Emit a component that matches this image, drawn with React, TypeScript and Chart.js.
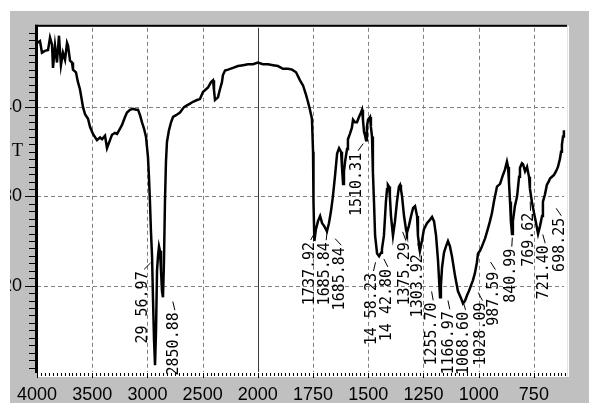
import React, { useEffect, useRef } from 'react';
import { Chart, LinearScale, registerables } from 'chart.js';

// ---- data ----
const wavenumbers = [
  4000, 3973, 3955, 3928, 3900, 3882, 3864, 3855, 3837, 3819, 3801, 3783, 3765, 3746, 3728, 3719, 3701, 3683, 3674, 3647,
  3629, 3611, 3583, 3565, 3538, 3520, 3493, 3457, 3429, 3411, 3384, 3366, 3339, 3321, 3294, 3275, 3248, 3230, 3203, 3185,
  3158, 3131, 3103, 3085, 3067, 3049, 3031, 3013, 2995, 2986, 2977, 2968, 2958, 2949, 2940, 2931, 2922, 2913, 2904, 2895,
  2886, 2877, 2868, 2859, 2850, 2841, 2832, 2823, 2805, 2786, 2768, 2741, 2705, 2669, 2642, 2614, 2587, 2551, 2524, 2497,
  2469, 2451, 2424, 2406, 2397, 2388, 2379, 2361, 2343, 2325, 2316, 2297, 2270, 2225, 2180, 2134, 2089, 2044, 2000,
  1977, 1954, 1931, 1909, 1886, 1863, 1845, 1827, 1809, 1795, 1782, 1773, 1764, 1755, 1750, 1748, 1744, 1737, 1728, 1718,
  1709, 1700, 1687, 1678, 1669, 1660, 1650, 1641, 1632, 1623, 1619, 1614, 1610, 1605, 1596, 1592, 1583, 1574, 1569, 1560,
  1551, 1542, 1533, 1528, 1524, 1519, 1515, 1510, 1506, 1501, 1492, 1488, 1483, 1479, 1474, 1469, 1460, 1451, 1442, 1438,
  1429, 1420, 1415, 1411, 1406, 1402, 1397, 1388, 1379, 1370, 1361, 1356, 1352, 1347, 1338, 1329, 1325, 1316, 1306, 1297,
  1288, 1279, 1275, 1266, 1257, 1248, 1234, 1220, 1211, 1202, 1193, 1184, 1175, 1171, 1166, 1157, 1148, 1139, 1130, 1121,
  1107, 1094, 1080, 1071, 1062, 1053, 1044, 1035, 1026, 1017, 1008, 1003, 994, 985, 971, 958, 949, 940, 931, 917,
  903, 890, 881, 872, 867, 863, 858, 854, 849, 845, 836, 826, 817, 813, 804, 799, 790, 781, 772, 768,
  759, 749, 740, 731, 722, 713, 709, 700, 691, 682, 677, 668, 659, 650, 641, 632, 627, 623, 618, 614,
];

const transmittance = [
  47.2, 47.4, 46.1, 46.3, 46.4, 47.8, 47.0, 44.4, 46.9, 45.0, 48.0, 44.7, 46.1, 45.3, 47.2, 46.9, 45.2, 45.0, 44.2, 43.9,
  42.8, 42.0, 40.0, 39.2, 38.7, 37.8, 37.0, 36.3, 36.6, 36.4, 36.8, 35.4, 36.3, 36.9, 37.1, 37.0, 37.6, 38.0, 38.9, 39.4,
  39.7, 39.8, 39.7, 39.7, 39.1, 38.3, 37.6, 36.7, 34.4, 32.2, 29.4, 26.1, 23.3, 18.3, 13.9, 11.1, 15.0, 21.7, 23.3, 24.4,
  23.9, 21.7, 19.4, 18.7, 22.8, 29.4, 33.9, 36.1, 37.4, 38.3, 38.9, 39.1, 39.4, 40.0, 40.2, 40.4, 40.6, 40.8, 40.9, 41.7,
  42.0, 42.2, 42.8, 43.0, 41.9, 40.8, 40.9, 41.1, 42.0, 42.8, 43.6, 44.1, 44.2, 44.4, 44.6, 44.7, 44.8, 44.8, 45.0,
  44.8, 44.8, 44.7, 44.6, 44.3, 44.3, 44.2, 43.9, 43.0, 42.4, 41.4, 40.6, 39.7, 38.7, 35.0, 29.4, 25.0, 26.3, 27.2, 27.8,
  27.0, 26.7, 26.1, 27.0, 28.3, 30.0, 32.4, 34.8, 35.4, 35.0, 33.3, 31.4, 32.8, 33.9, 35.3, 36.4, 37.0, 37.7, 38.6, 38.3,
  38.3, 38.9, 39.4, 39.7, 38.6, 37.2, 36.9, 36.3, 37.8, 38.6, 38.9, 37.8, 36.7, 32.8, 29.4, 25.6, 23.6, 23.3, 23.7, 24.1,
  25.6, 29.4, 30.8, 31.3, 31.1, 30.0, 27.8, 25.6, 27.2, 29.4, 31.1, 31.3, 30.8, 30.0, 27.8, 26.3, 25.9, 26.7, 27.8, 28.7,
  28.9, 27.8, 25.6, 23.9, 25.0, 26.3, 27.0, 27.4, 27.7, 27.2, 25.6, 22.8, 18.7, 20.0, 22.0, 23.7, 24.4, 25.0, 24.4, 23.3,
  21.1, 19.4, 18.6, 18.0, 18.3, 18.9, 19.4, 20.0, 20.6, 21.4, 22.6, 23.6, 23.9, 24.4, 25.3, 26.4, 27.2, 28.1, 29.4, 31.1,
  31.4, 32.4, 33.0, 33.9, 33.3, 31.7, 29.4, 27.2, 25.8, 27.2, 28.9, 30.0, 32.2, 33.2, 33.7, 33.6, 32.8, 33.3, 32.2, 30.9,
  29.4, 28.1, 27.0, 25.8, 26.7, 27.8, 29.4, 30.2, 31.3, 31.7, 32.0, 32.2, 32.4, 32.8, 33.3, 34.2, 35.0, 35.8, 36.7, 37.4,
];

const xTicks = [4000, 3500, 3000, 2500, 2000, 1750, 1500, 1250, 1000, 750];
const yTicks = [40, 30, 20];
const yTickLabels = ['40', '30', '20'];

const peakLabels = [
  '29 56.97', '2850.88', '1737.92', '1685.84', '1685.84', '1510.31', '14 58.23', '14 42.80', '1375.29', '1303.92',
  '1255.70', '1166.97', '1068.60', '1028.09', '987.59', '840.99', '769.62', '721.40', '698.25',
];
const peakWavenumbers = [
  2956.97, 2850.88, 1737.92, 1685.84, 1685.84, 1510.31, 1458.23, 1442.8, 1375.29, 1303.92,
  1255.7, 1166.97, 1068.6, 1028.09, 987.59, 840.99, 769.62, 721.4, 698.25,
];

// ---- layout (pixels, not data) ----
const X_MIN = 600;
const X_MAX = 4000;
const Y_MIN = 10.33;
const Y_MAX = 49.11;
const BREAK_AT = 2000;
const STRETCH = 2;
// label placement relative to the peak point on the curve: [dx, dy]
const labelOffsets = [
  [-9, 9], [10, 47], [-6, 10], [-2, 11], [13, 16], [-9, 12], [-5, 18], [6, 15], [9, 28], [7, 39],
  [10, 62], [7, 39], [1, 8], [9, 20], [13, 23], [-3, 33], [0, 28], [4, 19], [15, 24],
];

class BrokenWavenumberScale extends LinearScale {
  static id = 'brokenWavenumber';
  static defaults = {};
  _u(v: number) {
    const max = this.max as number;
    return v >= BREAK_AT ? max - v : max - BREAK_AT + STRETCH * (BREAK_AT - v);
  }
  _total() {
    const max = this.max as number;
    const min = this.min as number;
    return max - BREAK_AT + STRETCH * (BREAK_AT - min);
  }
  getPixelForValue(value: number) {
    if (value === null || value === undefined || isNaN(value)) return NaN;
    return this.left + (this._u(value) / this._total()) * this.width;
  }
  getValueForPixel(pixel: number) {
    const u = ((pixel - this.left) / this.width) * this._total();
    const max = this.max as number;
    const first = max - BREAK_AT;
    return u <= first ? max - u : BREAK_AT - (u - first) / STRETCH;
  }
}

Chart.register(...registerables, BrokenWavenumberScale as any);

function curveValueAt(w: number) {
  for (let i = 0; i < wavenumbers.length - 1; i++) {
    const a = wavenumbers[i];
    const b = wavenumbers[i + 1];
    if (w <= a && w >= b) {
      const t = a === b ? 0 : (a - w) / (a - b);
      return transmittance[i] + t * (transmittance[i + 1] - transmittance[i]);
    }
  }
  return transmittance[transmittance.length - 1];
}

const framePlugin = {
  id: 'irFrame',
  beforeDraw(chart: any) {
    const { ctx, chartArea: a, width, height } = chart;
    const xs = chart.scales.x;
    const ys = chart.scales.y;
    ctx.save();
    ctx.fillStyle = '#ffffff';
    ctx.fillRect(0, 0, width, height);
    ctx.fillStyle = '#c0c0c0';
    ctx.fillRect(10, 11, width - 10, height - 11);
    ctx.fillStyle = '#ffffff';
    ctx.fillRect(a.left, a.top, a.right - a.left + 2, a.bottom - a.top + 5);
    ctx.fillStyle = '#e4e4e4';
    ctx.fillRect(a.right, a.top, 1, a.bottom - a.top + 5);

    ctx.lineWidth = 1;
    for (const v of xTicks) {
      if (v === X_MAX) continue;
      const px = Math.round(xs.getPixelForValue(v)) + 0.5;
      ctx.beginPath();
      if (v === BREAK_AT) {
        ctx.setLineDash([]);
        ctx.strokeStyle = '#3a3a3a';
      } else {
        ctx.setLineDash([4, 3]);
        ctx.strokeStyle = '#808080';
      }
      ctx.moveTo(px, a.top + 2);
      ctx.lineTo(px, a.bottom);
      ctx.stroke();
    }
    ctx.setLineDash([4, 3]);
    ctx.strokeStyle = '#808080';
    for (const v of yTicks) {
      const py = Math.round(ys.getPixelForValue(v)) + 0.5;
      ctx.beginPath();
      ctx.moveTo(a.left, py);
      ctx.lineTo(a.right - 3, py);
      ctx.stroke();
    }
    ctx.restore();
  },
  afterDatasetsDraw(chart: any) {
    const { ctx } = chart;
    const xs = chart.scales.x;
    const ys = chart.scales.y;
    ctx.save();
    ctx.fillStyle = '#000';
    ctx.strokeStyle = '#000';
    ctx.lineWidth = 1;
    ctx.font = '15px "DejaVu Sans Mono"';
    peakLabels.forEach((label, i) => {
      const w = peakWavenumbers[i];
      const ax = xs.getPixelForValue(w);
      const ay = ys.getPixelForValue(curveValueAt(w));
      const lx = ax + labelOffsets[i][0];
      const ly = ay + labelOffsets[i][1];
      // leader
      const sx = lx + 1;
      const sy = ly - 1;
      const dx = ax - sx;
      const dy = ay - sy;
      const d = Math.hypot(dx, dy);
      const len = Math.min(d - 1, 9);
      if (len > 1) {
        ctx.beginPath();
        ctx.moveTo(sx, sy);
        ctx.lineTo(sx + (dx / d) * len, sy + (dy / d) * len);
        ctx.stroke();
      }
      ctx.save();
      ctx.translate(lx, ly + 1);
      ctx.rotate(-Math.PI / 2);
      ctx.textAlign = 'right';
      ctx.textBaseline = 'middle';
      ctx.fillText(label, 0, 0);
      ctx.restore();
    });
    ctx.restore();
  },
  afterDraw(chart: any) {
    const { ctx, chartArea: a, width, height } = chart;
    const xs = chart.scales.x;
    const ys = chart.scales.y;
    ctx.save();
    ctx.fillStyle = '#000';
    // frame lines
    ctx.fillRect(a.left - 2, a.top - 1, 3, a.bottom - a.top + 2);
    ctx.fillRect(a.left - 2, a.top - 1, a.right - a.left + 2, 2);

    // x-axis tick row
    const segs = [
      [X_MAX, BREAK_AT, 500 / 14],
      [BREAK_AT, X_MIN, 250 / 14],
    ];
    for (const [from, to, step] of segs) {
      for (let v = from; v >= to - 0.01; v -= step) {
        const px = Math.round(xs.getPixelForValue(v));
        ctx.fillRect(px, a.bottom + 1, 1, 3);
      }
    }
    for (const v of xTicks) {
      const px = Math.round(xs.getPixelForValue(v));
      ctx.fillRect(px, a.bottom + 1, 1, 5);
    }

    // y-axis ticks
    const ystep = 10 / 12;
    for (let v = 20; v <= Y_MAX; v += ystep) {
      const py = Math.round(ys.getPixelForValue(v));
      if (py < a.top + 2) continue;
      ctx.fillRect(a.left - 8, py, 6, 1);
    }
    for (let v = 20 - ystep; v >= Y_MIN; v -= ystep) {
      const py = Math.round(ys.getPixelForValue(v));
      ctx.fillRect(a.left - 8, py, 6, 1);
    }
    for (const v of yTicks) {
      const py = Math.round(ys.getPixelForValue(v));
      ctx.fillRect(a.left - 12, py, 12, 1);
    }

    // axis title remnant
    ctx.font = '18px "Liberation Serif"';
    ctx.textAlign = 'right';
    ctx.textBaseline = 'middle';
    ctx.fillText('T', 23, 151);

    // outer white margins (clip the label digits like the original window)
    ctx.fillStyle = '#ffffff';
    ctx.fillRect(0, 0, 10, height);
    ctx.fillRect(0, 0, width, 11);
    ctx.restore();
  },
};

export default function App() {
  const canvasRef = useRef<HTMLCanvasElement | null>(null);

  useEffect(() => {
    const canvas = canvasRef.current;
    if (!canvas) return;
    const chart = new Chart(canvas, {
      type: 'line',
      data: {
        datasets: [
          {
            data: wavenumbers.map((w, i) => ({ x: w, y: transmittance[i] })),
            borderColor: '#000000',
            borderWidth: 2.5,
            pointRadius: 0,
            tension: 0,
            fill: false,
          },
        ],
      },
      options: {
        animation: false,
        responsive: false,
        devicePixelRatio: 1,
        events: [],
        layout: { padding: { left: 0, top: 23, right: 22, bottom: 0 } },
        plugins: { legend: { display: false }, tooltip: { enabled: false } },
        scales: {
          x: {
            type: 'brokenWavenumber' as any,
            min: X_MIN,
            max: X_MAX,
            afterBuildTicks: (s: any) => {
              s.ticks = xTicks.map((v) => ({ value: v }));
            },
            afterFit: (s: any) => {
              s.height = 31;
            },
            grid: { display: false, drawTicks: false },
            border: { display: false },
            ticks: {
              autoSkip: false,
              maxRotation: 0,
              minRotation: 0,
              padding: 12,
              color: '#000000',
              font: { family: '"Liberation Sans"', size: 18 },
              callback: (v: any) => String(v),
            },
          },
          y: {
            min: Y_MIN,
            max: Y_MAX,
            afterBuildTicks: (s: any) => {
              s.ticks = yTicks.map((v) => ({ value: v }));
            },
            afterFit: (s: any) => {
              s.width = 37;
            },
            grid: { display: false, drawTicks: false },
            border: { display: false },
            ticks: {
              padding: 15,
              color: '#000000',
              font: { family: '"Liberation Sans"', size: 18 },
              callback: (v: any) => {
                const k = yTicks.indexOf(v);
                return k >= 0 ? yTickLabels[k] : '';
              },
            },
          },
        },
      },
      plugins: [framePlugin],
    } as any);
    return () => chart.destroy();
  }, []);

  return (
    <div style={{ position: 'absolute', left: 0, top: 0, width: 589, height: 403 }}>
      <canvas ref={canvasRef} width={589} height={403} style={{ display: 'block' }} />
    </div>
  );
}
